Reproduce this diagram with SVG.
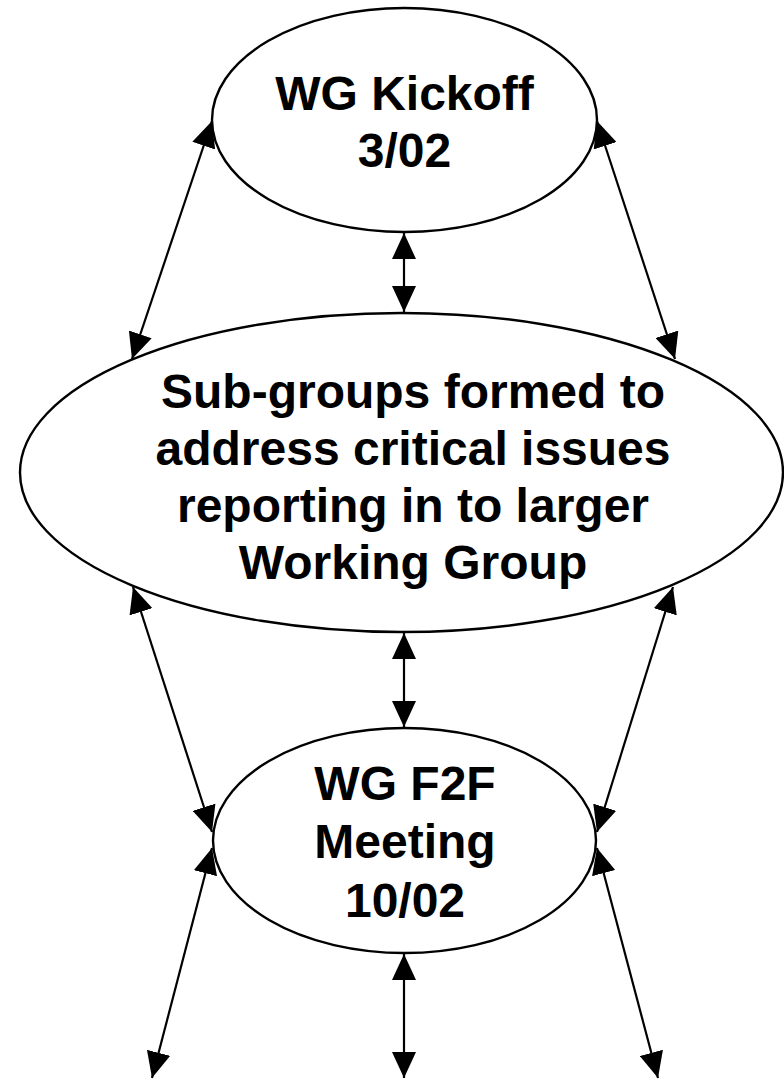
<svg xmlns="http://www.w3.org/2000/svg" width="784" height="1080" viewBox="0 0 784 1080">
<style>
.node ellipse{fill:#fff;stroke:#000;stroke-width:2.4}
.node text{font-family:"Liberation Sans",Arial,sans-serif;font-weight:bold;font-size:48px;text-anchor:middle;fill:#000}
.conn line{stroke:#000;stroke-width:2.2}
</style>
<defs>
<marker id="ah" viewBox="0 0 26 24" refX="26" refY="12" markerWidth="26" markerHeight="24" markerUnits="userSpaceOnUse" orient="auto-start-reverse">
<path d="M0,0 L26,12 L0,24 z" fill="#000"/>
</marker>
</defs>
<rect width="784" height="1080" fill="#fff"/>
<g id="n-kickoff" class="node">
<ellipse cx="404.5" cy="120" rx="192.5" ry="112"/>
<text x="404.5" y="110">WG Kickoff</text>
<text x="404.5" y="167">3/02</text>
</g>
<g id="n-subgroups" class="node">
<ellipse cx="401.5" cy="472.5" rx="381.5" ry="159.5"/>
<text x="413" y="408">Sub-groups formed to</text>
<text x="413" y="465">address critical issues</text>
<text x="413" y="522">reporting in to larger</text>
<text x="413" y="579">Working Group</text>
</g>
<g id="n-f2f" class="node">
<ellipse cx="404.5" cy="840.5" rx="191.5" ry="112.5"/>
<text x="405" y="800">WG F2F</text>
<text x="405" y="858">Meeting</text>
<text x="405" y="917">10/02</text>
</g>
<g id="connectors" class="conn">
<line x1="404" y1="233" x2="404" y2="312" marker-start="url(#ah)" marker-end="url(#ah)"/>
<line x1="212" y1="121" x2="132" y2="359" marker-start="url(#ah)" marker-end="url(#ah)"/>
<line x1="597" y1="121" x2="675" y2="359" marker-start="url(#ah)" marker-end="url(#ah)"/>
<line x1="404" y1="633" x2="404" y2="727" marker-start="url(#ah)" marker-end="url(#ah)"/>
<line x1="133" y1="587" x2="212" y2="832" marker-start="url(#ah)" marker-end="url(#ah)"/>
<line x1="673" y1="587" x2="597" y2="832" marker-start="url(#ah)" marker-end="url(#ah)"/>
<line x1="404" y1="954" x2="404" y2="1078" marker-start="url(#ah)" marker-end="url(#ah)"/>
<line x1="212" y1="848" x2="152" y2="1078" marker-start="url(#ah)" marker-end="url(#ah)"/>
<line x1="597" y1="848" x2="658" y2="1078" marker-start="url(#ah)" marker-end="url(#ah)"/>
</g>
</svg>
